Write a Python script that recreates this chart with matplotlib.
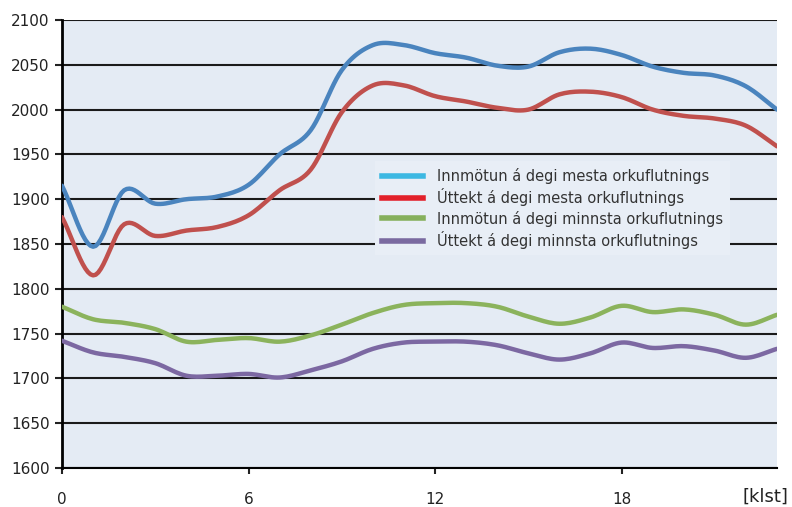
import matplotlib
matplotlib.use("Agg")
import matplotlib.pyplot as plt
import numpy as np

# === DATA ===

hours = list(range(24))
innmotun_mesta = [1915, 1847, 1910, 1895, 1900, 1903, 1916, 1950, 1977, 2044, 2072, 2072,
                  2063, 2058, 2049, 2048, 2064, 2068, 2061, 2048, 2041, 2038, 2026, 2000]
uttekt_mesta = [1880, 1815, 1872, 1859, 1865, 1869, 1882, 1910, 1933, 1997, 2027, 2027,
                2015, 2009, 2002, 2000, 2017, 2020, 2014, 2000, 1993, 1990, 1982, 1959]
innmotun_minnsta = [1780, 1766, 1762, 1755, 1741, 1743, 1745, 1741, 1748, 1760, 1773, 1782,
                    1784, 1784, 1780, 1769, 1761, 1768, 1781, 1774, 1777, 1771, 1760, 1771]
uttekt_minnsta = [1742, 1729, 1724, 1717, 1703, 1703, 1705, 1701, 1709, 1719, 1733, 1740,
                  1741, 1741, 1737, 1728, 1721, 1728, 1740, 1734, 1736, 1731, 1723, 1733]

labels = ["Innmötun á degi mesta orkuflutnings",
          "Úttekt á degi mesta orkuflutnings",
          "Innmötun á degi minnsta orkuflutnings",
          "Úttekt á degi minnsta orkuflutnings"]
line_colors = ["#4a84be", "#c0504d", "#8bb35c", "#7c68a2"]
legend_colors = ["#3cb8e2", "#e2202a", "#86b05c", "#7a6aa0"]


def smooth(x, y, n=12):
    # Catmull-Rom style smoothing, like spreadsheet "smoothed line"
    x = np.asarray(x, float)
    y = np.asarray(y, float)
    px = np.concatenate([[2 * x[0] - x[1]], x, [2 * x[-1] - x[-2]]])
    py = np.concatenate([[2 * y[0] - y[1]], y, [2 * y[-1] - y[-2]]])
    xs, ys = [], []
    t = np.linspace(0, 1, n, endpoint=False)
    for i in range(1, len(px) - 2):
        for arr, out in ((px, xs), (py, ys)):
            p0, p1, p2, p3 = arr[i - 1], arr[i], arr[i + 1], arr[i + 2]
            out.extend(0.5 * (2 * p1 + (-p0 + p2) * t
                              + (2 * p0 - 5 * p1 + 4 * p2 - p3) * t ** 2
                              + (-p0 + 3 * p1 - 3 * p2 + p3) * t ** 3))
    xs.append(x[-1])
    ys.append(y[-1])
    return np.array(xs), np.array(ys)


fig = plt.figure(figsize=(7.92, 5.07), dpi=100)
ax = fig.add_axes([62 / 792, 1 - 468 / 507, 715 / 792, 448 / 507])
ax.set_facecolor("#e4ebf4")

series = [innmotun_mesta, uttekt_mesta, innmotun_minnsta, uttekt_minnsta]
for vals, col in zip(series, line_colors):
    sx, sy = smooth(hours, vals)
    ax.plot(sx, sy, color=col, linewidth=3.2, solid_capstyle="round", zorder=3)

ax.set_xlim(0, 23)
ax.set_ylim(1600, 2100)
ax.set_yticks(np.arange(1600, 2101, 50))
ax.set_xticks([0, 6, 12, 18])
ax.yaxis.grid(True, color="#1a1a1a", linewidth=1.5)
ax.set_axisbelow(True)
for s in ["top", "right"]:
    ax.spines[s].set_visible(False)
ax.spines["left"].set_linewidth(2)
ax.spines["bottom"].set_linewidth(1.5)
ax.tick_params(axis="y", length=5, width=1.5, labelsize=11, pad=4, colors="#222222")
ax.tick_params(axis="x", length=4, width=1.5, labelsize=11, pad=13, colors="#222222")
fig.text(765 / 792, 1 - 497 / 507, "[klst]", fontsize=13, ha="center", va="center",
         color="#222222")

handles = [plt.Line2D([], [], color=c, linewidth=4) for c in legend_colors]
leg = ax.legend(handles, labels, loc="upper left", bbox_to_anchor=(0.428, 0.701),
                frameon=True, fontsize=10.5, handlelength=2.8, labelspacing=0.3,
                borderpad=0.45, handletextpad=1.0)
leg.get_frame().set_facecolor("#e8eef6")
leg.get_frame().set_edgecolor("none")
leg.get_frame().set_alpha(1)
leg.get_frame().set_boxstyle("square", pad=0)
for t in leg.get_texts():
    t.set_color("#333333")

fig.savefig("out.png", dpi=100)
